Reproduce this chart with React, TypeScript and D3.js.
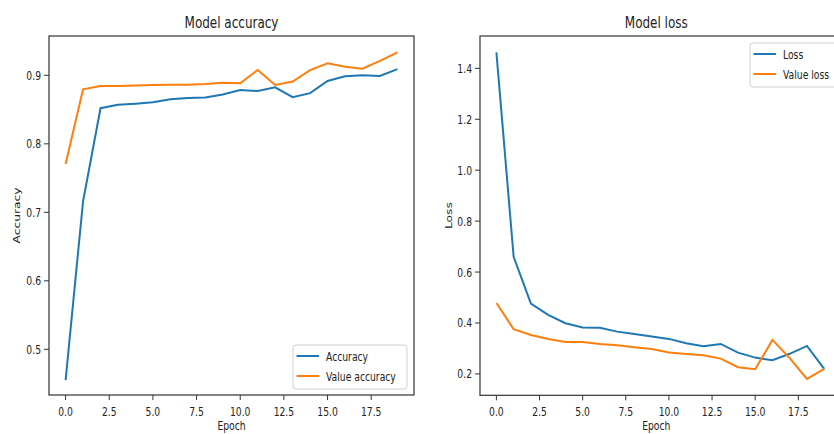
import React, { useEffect, useRef } from 'react';
import * as d3 from 'd3';

const epochs = [0, 1, 2, 3, 4, 5, 6, 7, 8, 9, 10, 11, 12, 13, 14, 15, 16, 17, 18, 19];

const accuracy = [0.455, 0.716, 0.852, 0.857, 0.8586, 0.8606, 0.865, 0.867, 0.8675, 0.872,
  0.8785, 0.877, 0.8825, 0.868, 0.874, 0.8917, 0.8985, 0.9, 0.899, 0.909];
const valAccuracy = [0.7705, 0.8795, 0.8844, 0.8844, 0.885, 0.8858, 0.8862, 0.8862, 0.8873, 0.8892,
  0.8883, 0.9077, 0.8858, 0.891, 0.9077, 0.9175, 0.9126, 0.9097, 0.921, 0.9336];

const loss = [1.463, 0.66, 0.476, 0.4316, 0.399, 0.382, 0.381, 0.366, 0.357, 0.3465,
  0.3375, 0.3204, 0.3087, 0.3178, 0.2837, 0.264, 0.2537, 0.279, 0.31, 0.2196];
const valLoss = [0.4787, 0.3755, 0.353, 0.3374, 0.3256, 0.3256, 0.3178, 0.3126, 0.305, 0.298,
  0.2837, 0.2785, 0.2733, 0.26, 0.2262, 0.2183, 0.3335, 0.262, 0.1804, 0.2196];

const xTicks = [0, 2.5, 5, 7.5, 10, 12.5, 15, 17.5];
const accTicks = [0.5, 0.6, 0.7, 0.8, 0.9];
const lossTicks = [0.2, 0.4, 0.6, 0.8, 1.0, 1.2, 1.4];

const BLUE = '#1f77b4';
const ORANGE = '#ff7f0e';
const FONT = 'DejaVu Sans';
const SQ = 0.75; // the source picture is squeezed horizontally

const App = () => {
  const ref = useRef<SVGSVGElement>(null);

  useEffect(() => {
    const svg = d3.select(ref.current);
    svg.selectAll('*').remove();

    const text = (g: any, x: number, y: number, s: string, size: number, anchor: string, rot = false) =>
      g.append('text')
        .attr('transform', rot
          ? `translate(${x},${y}) rotate(-90) scale(1,${SQ})`
          : `translate(${x},${y}) scale(${SQ},1)`)
        .attr('text-anchor', anchor)
        .attr('font-family', FONT)
        .attr('font-size', size)
        .attr('fill', '#222')
        .text(s);

    const panel = (opts: any) => {
      const { left, right, top, bottom, yDomain, yTicks, a, b, title, ylabel, labels, legend } = opts;
      const x = d3.scaleLinear().domain([-0.95, 19.95]).range([left, right]);
      const y = d3.scaleLinear().domain(yDomain).range([bottom, top]);
      const g = svg.append('g');

      // lines
      const line = (vals: number[]) => d3.line<number>()
        .x((d, i) => x(epochs[i]))
        .y(d => y(d))(vals);
      g.append('path').attr('d', line(a)).attr('fill', 'none').attr('stroke', BLUE).attr('stroke-width', 2);
      g.append('path').attr('d', line(b)).attr('fill', 'none').attr('stroke', ORANGE).attr('stroke-width', 2);

      // spines
      g.append('rect').attr('x', left).attr('y', top).attr('width', right - left).attr('height', bottom - top)
        .attr('fill', 'none').attr('stroke', '#333').attr('stroke-width', 1.2);

      // ticks
      xTicks.forEach(t => {
        g.append('line').attr('x1', x(t)).attr('x2', x(t)).attr('y1', bottom).attr('y2', bottom + 5)
          .attr('stroke', '#333');
        text(g, x(t), bottom + 21, d3.format('.1f')(t), 12.3, 'middle');
      });
      yTicks.forEach((t: number) => {
        g.append('line').attr('x1', left - 5).attr('x2', left).attr('y1', y(t)).attr('y2', y(t))
          .attr('stroke', '#333');
        text(g, left - 8, y(t) + 4.5, d3.format('.1f')(t), 12.3, 'end');
      });

      const cx = (left + right) / 2 - (right > 834 ? 4 : 0);
      text(g, cx, 28, title, 16, 'middle');
      text(g, cx, 430, 'Epoch', 12.3, 'middle');
      text(g, opts.ylabelX, (top + bottom) / 2, ylabel, 12.3, 'middle', true);

      // legend
      const lg = g.append('g');
      lg.append('rect').attr('x', legend.x).attr('y', legend.y).attr('width', legend.w).attr('height', 44)
        .attr('rx', 3).attr('fill', 'rgba(255,255,255,0.8)').attr('stroke', '#d0d0d0');
      [BLUE, ORANGE].forEach((c, i) => {
        const ly = legend.y + 11 + i * 20;
        lg.append('line').attr('x1', legend.x + 3.5).attr('x2', legend.x + 26).attr('y1', ly).attr('y2', ly)
          .attr('stroke', c).attr('stroke-width', 2);
        text(lg, legend.x + 33, ly + 4.5, labels[i], 12.3, 'start');
      });
    };

    panel({
      left: 49, right: 414, top: 36, bottom: 395,
      yDomain: [0.4333, 0.9574], yTicks: accTicks,
      a: accuracy, b: valAccuracy,
      title: 'Model accuracy', ylabel: 'Accuracy', ylabelX: 20,
      labels: ['Accuracy', 'Value accuracy'],
      legend: { x: 293, y: 345, w: 114 },
    });
    panel({
      left: 480, right: 840.6, top: 36, bottom: 395.3,
      yDomain: [0.116, 1.527], yTicks: lossTicks,
      a: loss, b: valLoss,
      title: 'Model loss', ylabel: 'Loss', ylabelX: 452,
      labels: ['Loss', 'Value loss'],
      legend: { x: 750, y: 43, w: 90 },
    });
  }, []);

  return (
    <svg ref={ref} width={834} height={434}
      style={{ position: 'absolute', left: 0, top: 0, background: '#fff' }} />
  );
};

export default App;
